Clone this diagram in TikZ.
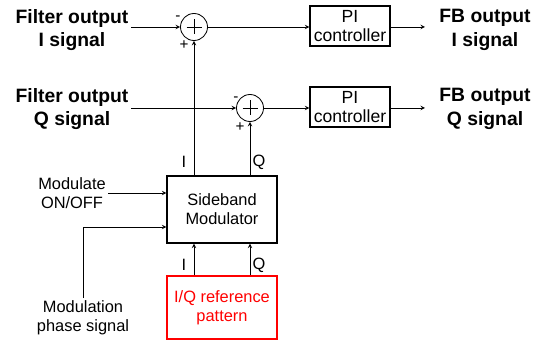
\documentclass[tikz,border=0pt]{standalone}
\usepackage{fontspec}
\setmainfont{Liberation Sans}
\usetikzlibrary{calc}
\begin{document}
\begin{tikzpicture}[x=0.03cm, y=-0.03cm, >=stealth, line width=0.7pt,
  biglab/.style={align=center, inner sep=2pt, font=\fontsize{16.5}{20}\selectfont\bfseries},
  lab/.style={align=center, inner sep=2pt, font=\fontsize{14}{16}\selectfont},
  sign/.style={inner sep=0pt, font=\fontsize{13}{13}\selectfont},
  block/.style={draw, line width=1.1pt, align=center, font=\fontsize{14}{16}\selectfont},
  sumnode/.style={draw, circle, minimum size=0.81cm, inner sep=0pt,
    path picture={\draw (path picture bounding box.center) ++(-7.5,0) -- ++(15,0)
      (path picture bounding box.center) ++(0,-7.5) -- ++(0,15);}}]
\useasboundingbox (0,0) rectangle (548,348);
% inputs
\node[biglab] (fi) at (72,30) {Filter output\\I signal};
\node[biglab] (fq) at (72,109) {Filter output\\Q signal};
% summing points
\node[sumnode] (s1) at (194,27) {};
\node[sumnode] (s2) at (250,108) {};
\node[sign] (m1) at (178,18) {-};
\node[sign] (p1) at (184,45) {+};
\node[sign] (m2) at (236,99) {-};
\node[sign] (p2) at (240,127) {+};
% controllers
\node[block, minimum width=2.4cm, minimum height=1.2cm, inner sep=1pt,
  font=\fontsize{15}{16.5}\selectfont] (pi1) at (350,26) {PI\\controller};
\node[block, minimum width=2.4cm, minimum height=1.2cm, inner sep=1pt,
  font=\fontsize{15}{16.5}\selectfont] (pi2) at (350,107) {PI\\controller};
\coordinate (oi) at (425,27);
\coordinate (oq) at (425,108);
\node[biglab] (fbi) at (485,30) {FB output\\I signal};
\node[biglab] (fbq) at (485,109) {FB output\\Q signal};
% modulator
\node[block, minimum width=3.3cm, minimum height=2.01cm] (sbm) at (222,209.5) {Sideband\\Modulator};
\node[block, draw=red, text=red, minimum width=3.3cm, minimum height=1.89cm] (iq) at (222,307.5) {I/Q reference\\pattern};
\node[lab] (mod) at (72,193.5) {Modulate\\ON/OFF};
\node[lab] (ph) at (83,318) {Modulation\\phase signal};
\coordinate (modin) at ($(sbm.west)+(0,-16.5)$);
\coordinate (phin) at ($(sbm.west)+(0,17.5)$);
\node[lab] (li1) at (184,162) {I};
\node[lab] (lq1) at (259,162) {Q};
\node[lab] (li2) at (184,265) {I};
\node[lab] (lq2) at (259,265) {Q};
% connectors
\draw[->] (fi.east |- s1) -- (s1);
\draw[->] (fq.east |- s2) -- (s2);
\draw[->] (s1) -- (s1 -| pi1.west);
\draw[->] (s2) -- (s2 -| pi2.west);
\draw[->] (pi1.east |- oi) -- (oi);
\draw[->] (pi2.east |- oq) -- (oq);
\draw[->] (sbm.north -| s1) -- (s1);
\draw[->] (sbm.north -| s2) -- (s2);
\draw[->] (iq.north -| s1) -- (sbm.south -| s1);
\draw[->] (iq.north -| s2) -- (sbm.south -| s2);
\draw[->] (mod.east |- modin) -- (modin);
\draw[->] (ph.north) |- (phin);
\end{tikzpicture}
\end{document}
